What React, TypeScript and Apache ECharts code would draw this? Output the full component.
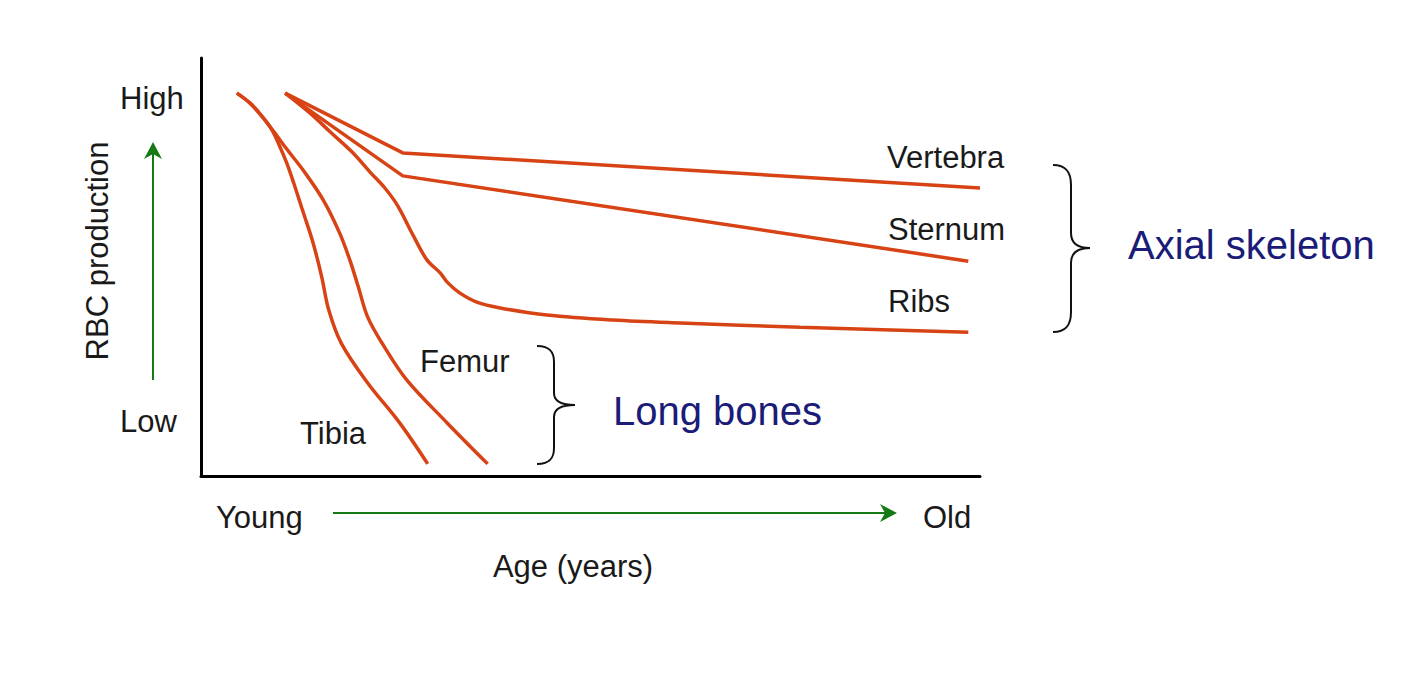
import React, { useEffect, useRef } from "react";
import * as echarts from "echarts";

// Age on x (0 = young, 100 = old), RBC production on y (0 = low, 100 = high)
const vertebra: number[][] = [[10.8, 91.6], [25.9, 77.3], [100, 68.9]];
const sternum: number[][] = [[10.8, 91.6], [25.9, 71.8], [98.5, 51.4]];
const ribs: number[][] = [
  [10.8, 91.6], [14.0, 86.8], [16.6, 82.3], [19.4, 77.5], [21.7, 72.7], [23.6, 68.9],
  [25.2, 64.8], [27.2, 57.7], [29.0, 51.7], [30.7, 48.6], [31.7, 46.2], [33.2, 43.8],
  [35.4, 41.6], [38.4, 40.2], [44.4, 38.5], [52.9, 37.3], [61.5, 36.6], [76.9, 35.6],
  [98.5, 34.4],
];
const tibia: number[][] = [
  [4.6, 91.6], [6.3, 89.2], [7.8, 86.1], [9.1, 82.8], [10.1, 78.9], [11.0, 74.9],
  [11.9, 70.1], [13.1, 63.2], [14.4, 55.7], [15.5, 47.6], [16.4, 39.7], [18.0, 31.8],
  [21.3, 22.5], [25.5, 12.7], [29.1, 2.9],
];
const femur: number[][] = [
  [4.6, 91.6], [6.3, 89.2], [7.8, 86.1], [9.3, 82.5], [10.8, 78.7], [13.1, 73.2],
  [15.7, 66.0], [17.8, 58.1], [19.1, 51.7], [20.2, 45.2], [21.4, 38.0], [23.4, 31.3],
  [26.4, 23.0], [31.6, 12.7], [36.8, 2.9],
];

const seriesNames = ["Vertebra", "Sternum", "Ribs", "Femur", "Tibia"];
const seriesData = [vertebra, sternum, ribs, femur, tibia];
const seriesSmooth = [false, false, 0.35, 0.35, 0.35];

const LINE = "#d84315";
const GREEN = "#157a15";
const NAVY = "#1b1b78";
const TEXT = "#1a1a1a";
const FONT = "'Liberation Sans', Arial, sans-serif";

const braceAxial =
  "M1053,165 C1066,165 1071,172 1071,185 L1071,233 C1071,243 1078,248 1090,248 C1078,248 1071,253 1071,263 L1071,312 C1071,325 1066,332 1053,332";
const braceLong =
  "M537,346 C550,346 554,352 554,362 L554,393 C554,401 562,405 575,405 C562,405 554,409 554,417 L554,448 C554,458 550,464 537,464";

echarts.graphic.registerShape("braceAxial", echarts.graphic.extendPath(braceAxial, {}));
echarts.graphic.registerShape("braceLong", echarts.graphic.extendPath(braceLong, {}));

function txt(text: string, x: number, y: number, size: number, color: string, align = "left", rotation = 0) {
  return {
    type: "text",
    x,
    y,
    rotation,
    style: {
      text,
      fill: color,
      font: `${size}px ${FONT}`,
      textAlign: align,
      textVerticalAlign: "middle",
    },
  };
}

export default function App() {
  const ref = useRef<HTMLDivElement>(null);
  useEffect(() => {
    const chart = echarts.init(ref.current!, null, { renderer: "svg" });
    chart.setOption({
      animation: false,
      backgroundColor: "#ffffff",
      grid: { left: 201, top: 58, width: 779, height: 418 },
      xAxis: {
        type: "value",
        min: 0,
        max: 100,
        axisLine: { show: true, lineStyle: { color: "#000", width: 3 } },
        axisTick: { show: false },
        axisLabel: { show: false },
        splitLine: { show: false },
      },
      yAxis: {
        type: "value",
        min: 0,
        max: 100,
        axisLine: { show: true, lineStyle: { color: "#000", width: 3 } },
        axisTick: { show: false },
        axisLabel: { show: false },
        splitLine: { show: false },
      },
      series: seriesNames.map((name, i) => ({
        name,
        type: "line",
        data: seriesData[i],
        smooth: seriesSmooth[i],
        showSymbol: false,
        symbol: "none",
        lineStyle: { color: LINE, width: 3.5 },
        z: 3,
      })),
      graphic: [
        txt("High", 120, 98, 31, TEXT),
        txt("Low", 120, 421, 31, TEXT),
        txt("RBC production", 97, 251, 31, TEXT, "center", Math.PI / 2),
        txt("Young", 216, 517, 31, TEXT),
        txt("Old", 923, 517, 31, TEXT),
        txt("Age (years)", 573, 566, 31, TEXT, "center"),
        txt("Vertebra", 887, 157, 31, TEXT),
        txt("Sternum", 888, 229, 31, TEXT),
        txt("Ribs", 888, 301, 31, TEXT),
        txt("Femur", 420, 361, 31, TEXT),
        txt("Tibia", 300, 433, 31, TEXT),
        txt("Long bones", 613, 411, 40, NAVY),
        txt("Axial skeleton", 1128, 245, 40, NAVY),
        { type: "line", shape: { x1: 153, y1: 380, x2: 153, y2: 150 }, style: { stroke: GREEN, lineWidth: 2 } },
        { type: "polygon", shape: { points: [[153, 142], [144, 159], [153, 154], [162, 159]] }, style: { fill: GREEN } },
        { type: "line", shape: { x1: 333, y1: 513, x2: 888, y2: 513 }, style: { stroke: GREEN, lineWidth: 2 } },
        { type: "polygon", shape: { points: [[897, 513], [880, 504], [885, 513], [880, 522]] }, style: { fill: GREEN } },
        { type: "braceAxial", x: 0, y: 0, style: { stroke: "#111", lineWidth: 2, fill: null } },
        { type: "braceLong", x: 0, y: 0, style: { stroke: "#111", lineWidth: 2, fill: null } },
      ],
    });
    return () => chart.dispose();
  }, []);
  return (
    <div
      ref={ref}
      style={{ position: "absolute", left: 0, top: 0, width: 1423, height: 674, background: "#fff" }}
    />
  );
}
